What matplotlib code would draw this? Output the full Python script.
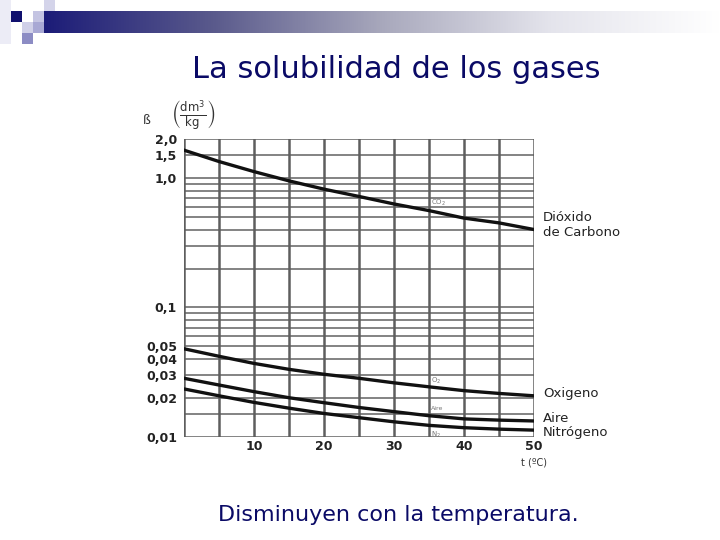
import numpy as np
import matplotlib
matplotlib.use('Agg')
import matplotlib.pyplot as plt
from matplotlib.patches import Rectangle
from matplotlib.colors import LinearSegmentedColormap

# data
temps = [0, 5, 10, 15, 20, 25, 30, 35, 40, 45, 50]
co2 = [1.64, 1.34, 1.12, 0.95, 0.82, 0.72, 0.63, 0.56, 0.49, 0.45, 0.40]
o2 = [0.048, 0.042, 0.037, 0.0333, 0.0305, 0.0284, 0.0262, 0.0244, 0.0228, 0.0217, 0.0208]
aire = [0.0284, 0.0252, 0.0224, 0.0201, 0.0184, 0.0169, 0.0157, 0.0146, 0.0138, 0.0135, 0.0133]
n2 = [0.0235, 0.0208, 0.0185, 0.0167, 0.0152, 0.0141, 0.0131, 0.0123, 0.0118, 0.0115, 0.0113]

ytick_vals = [2.0, 1.5, 1.0, 0.1, 0.05, 0.04, 0.03, 0.02, 0.01]
ytick_labels = ['2,0', '1,5', '1,0', '0,1', '0,05', '0,04', '0,03', '0,02', '0,01']
xtick_vals = [10, 20, 30, 40, 50]
hgrid = ([0.01, 0.015] + [i / 100 for i in range(2, 10)] +
         [i / 10 for i in range(1, 10)] + [1.0, 1.5, 2.0])
vgrid = list(range(0, 55, 5))

navy = '#0a0a66'

W, H = 720, 540
fig = plt.figure(figsize=(7.2, 5.4), dpi=100)

# slide decoration: gradient banner + squares
bar = fig.add_axes([44 / W, 1 - 33 / H, (W - 44) / W, 22 / H])
grad = np.linspace(0, 1, 256).reshape(1, -1)
cm = LinearSegmentedColormap.from_list('ban', ['#1c1c78', '#5a5a8c', '#a8a8bc', '#e4e4ec', '#ffffff'])
bar.imshow(grad, aspect='auto', cmap=cm)
bar.axis('off')

squares = [
    (0, 0, 11, 44, '#ececf6'),
    (11, 11, 11, 11, '#10106e'),
    (33, 11, 11, 11, '#c4c4e2'),
    (44, 0, 11, 11, '#d4d4ea'),
    (22, 22, 11, 11, '#d0d0e8'),
    (33, 22, 11, 11, '#a8a8d4'),
    (22, 33, 11, 11, '#8c8cc4'),
]
for x, y, w, h, c in squares:
    fig.patches.append(Rectangle((x / W, 1 - (y + h) / H), w / W, h / H,
                                 transform=fig.transFigure, color=c, lw=0))

fig.text(0.551, 1 - 70 / H, 'La solubilidad de los gases', ha='center', va='center',
         fontsize=22, color=navy)
fig.text(0.553, 1 - 515 / H, 'Disminuyen con la temperatura.', ha='center', va='center',
         fontsize=16, color=navy)

# chart
ax = fig.add_axes([184 / W, 1 - 437 / H, 350 / W, 298 / H])
ax.set_yscale('log')
ax.set_xlim(0, 50)
ax.set_ylim(0.01, 2.0)
for v in hgrid:
    ax.axhline(v, color='#7a7a7a', lw=1.3, zorder=1)
for v in vgrid:
    ax.axvline(v, color='#5e5e5e', lw=1.8, zorder=1)
for s in ax.spines.values():
    s.set_visible(False)

for ys in (co2, o2, aire, n2):
    ax.plot(temps, ys, color='#111111', lw=2.4, zorder=3)

ax.set_yticks(ytick_vals)
ax.set_yticklabels(ytick_labels)
ax.yaxis.set_minor_locator(matplotlib.ticker.NullLocator())
ax.set_xticks(xtick_vals)
ax.set_xticklabels([str(v) for v in xtick_vals])
ax.tick_params(axis='y', length=0, labelsize=9, pad=5, labelcolor='#222222')
ax.tick_params(axis='x', length=0, labelsize=9, pad=2, labelcolor='#222222')
for lab in ax.get_xticklabels() + ax.get_yticklabels():
    lab.set_fontweight('bold')

ax.text(50, -0.087, 't (ºC)', transform=ax.get_xaxis_transform(), ha='center', va='center',
        fontsize=7, color='#333333')

# axis quantity label
fig.text(147 / W, 1 - 121 / H, 'ß', fontsize=9, color='#333333', ha='center', va='center')
fig.text(193 / W, 1 - 116 / H, r'$\left(\frac{\mathrm{dm^3}}{\mathrm{kg}}\right)$',
         fontsize=12, color='#333333', ha='center', va='center')

# small curve tags
ax.text(35.3, 0.62, 'CO$_2$', fontsize=5, color='#777777', zorder=4)
ax.text(35.3, 0.0262, 'O$_2$', fontsize=5, color='#777777', zorder=4)
ax.text(35.3, 0.0162, 'Aire', fontsize=4.5, color='#777777', zorder=4)
ax.text(35.3, 0.0101, 'N$_2$', fontsize=5, color='#777777', zorder=4)

# right side names
yt = ax.get_yaxis_transform()
ax.text(1.026, 0.434, 'Dióxido\nde Carbono', transform=yt, fontsize=9.5, va='center',
        linespacing=1.15, color='#222222')
ax.text(1.026, 0.0215, 'Oxigeno', transform=yt, fontsize=9.5, va='center', color='#222222')
ax.text(1.026, 0.0138, 'Aire', transform=yt, fontsize=9.5, va='center', color='#222222')
ax.text(1.026, 0.0108, 'Nitrógeno', transform=yt, fontsize=9.5, va='center', color='#222222')

fig.savefig('out.png', dpi=100)
